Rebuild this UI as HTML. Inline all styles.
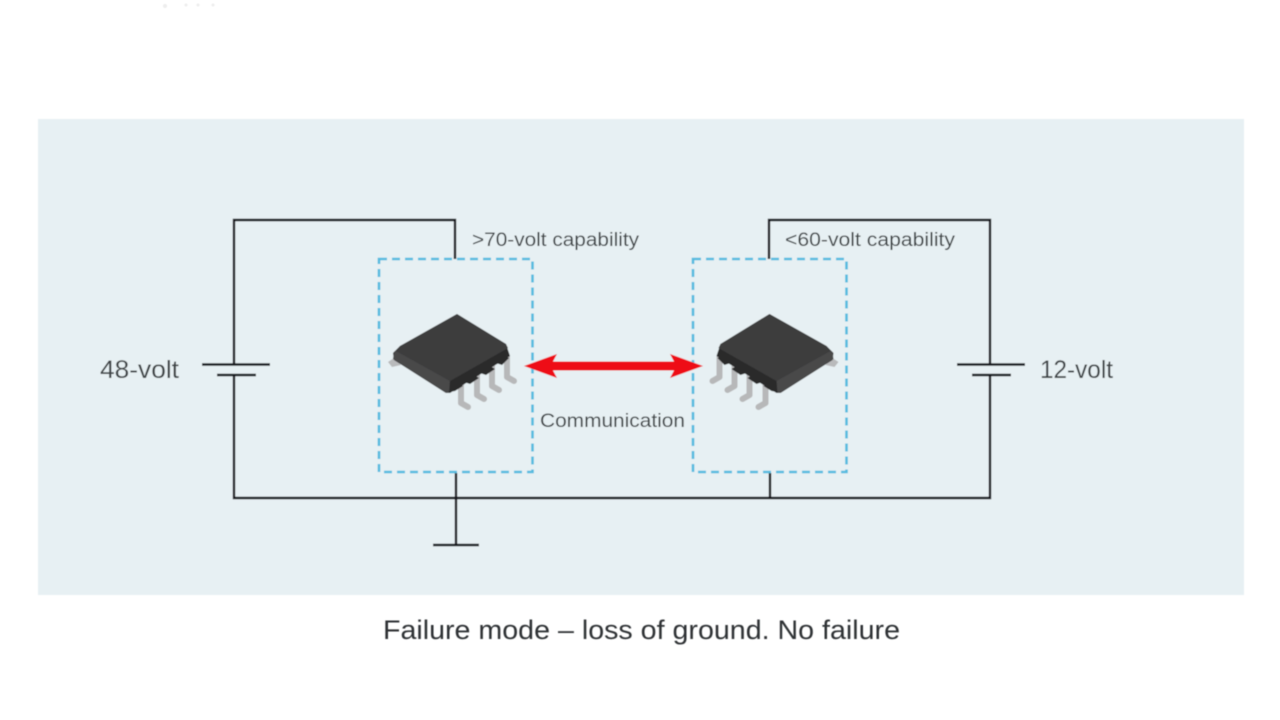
<!DOCTYPE html>
<html>
<head>
<meta charset="utf-8">
<style>
html,body{margin:0;padding:0;background:#fff;width:1280px;height:720px;overflow:hidden}
svg{display:block}
text{font-family:"Liberation Sans",sans-serif;fill:#3c4245}
</style>
</head>
<body>
<svg width="1280" height="720" viewBox="0 0 1280 720" xmlns="http://www.w3.org/2000/svg">
<defs>
<filter id="b" x="-5%" y="-5%" width="110%" height="110%"><feGaussianBlur stdDeviation="0.5"/></filter>
<g id="chip">
  <!-- far pin -->
  <path d="M394 358 L388 362 L392 367 L401 365 Z" fill="#b9babb"/>
  <!-- legs -->
  <g fill="none" stroke="#b7b8b9" stroke-linecap="round" stroke-linejoin="round" stroke-width="6">
    <path d="M461 384 L461 403 L468 407"/>
    <path d="M477 375 L477 395 L484 399"/>
    <path d="M492 366 L492 386 L499 390"/>
    <path d="M507 357 L507 377 L514 381"/>
  </g>
  <!-- full silhouette -->
  <path d="M457 314 L506 344 L510 356 L450 393 L446 393 L394 360 L393 353 L400 346 Z" fill="#2b2b2c"/>
  <!-- notches under right edge -->
  <path d="M449 392 L458 384 L463 386 L455 391 Z M464 382 L474 375 L479 378 L470 384 Z M480 373 L490 366 L495 369 L486 375 Z M496 363 L505 356 L509 358 L502 365 Z" fill="#2b2b2c"/>
  <!-- left front side -->
  <path d="M394 352 L393 359 L446 393 L449 393 L450 380 L398 349 Z" fill="#484849"/>
  <!-- top -->
  <path d="M457 314 L506 344 L508 348 L450 381 L396 351 L400 346 Z" fill="#3c3c3d"/>
</g>
</defs>

<g filter="url(#b)">
<rect x="38" y="119" width="1206" height="476" fill="#e7f0f3"/>

<!-- wires -->
<g fill="none" stroke="#15181a" stroke-width="2.400">
  <path d="M455 259 V220 H234 V364"/>
  <path d="M234 375 V498 H990 V375"/>
  <path d="M769 259 V220 H990 V364"/>
  <path d="M456 473 V545"/>
  <path d="M770 473 V498"/>
  <path d="M433 545 H479"/>
  <path d="M202 364.500 H270"/>
  <path d="M217 375 H256"/>
  <path d="M957 364.500 H1025"/>
  <path d="M972 375 H1011"/>
</g>

<!-- dashed boxes -->
<g fill="none" stroke="#55bbdf" stroke-width="2.600" stroke-dasharray="8 5">
  <rect x="379" y="259" width="153.500" height="213"/>
  <rect x="693" y="259" width="153.500" height="213"/>
</g>

<!-- chips -->
<use href="#chip"/>
<use href="#chip" transform="translate(1226.500 0) scale(-1 1)"/>

<!-- red arrow -->
<path d="M524 366 L557 354 L553 361.500 H674 L670 354 L703 366 L670 378 L674 370.500 H553 L557 378 Z" fill="#ee1118"/>

<!-- labels -->
<text x="472" y="246" font-size="19" textLength="167" lengthAdjust="spacingAndGlyphs">&gt;70-volt capability</text>
<text x="785" y="246" font-size="19" textLength="170" lengthAdjust="spacingAndGlyphs">&lt;60-volt capability</text>
<text x="100" y="378" font-size="25" textLength="79" lengthAdjust="spacingAndGlyphs">48-volt</text>
<text x="1040" y="378" font-size="25" textLength="73" lengthAdjust="spacingAndGlyphs">12-volt</text>
<text x="540" y="427" font-size="19.500" textLength="145" lengthAdjust="spacingAndGlyphs">Communication</text>
<text x="383" y="639" font-size="27" textLength="517" lengthAdjust="spacingAndGlyphs" style="fill:#2f3234">Failure mode – loss of ground. No failure</text>

<!-- faint residue top -->
<g fill="#ededed"><circle cx="165" cy="6" r="2"/><circle cx="186" cy="5" r="1.500"/><circle cx="198" cy="5" r="1.500"/><circle cx="213" cy="5" r="1.500"/></g>
</g>
</svg>
</body>
</html>
